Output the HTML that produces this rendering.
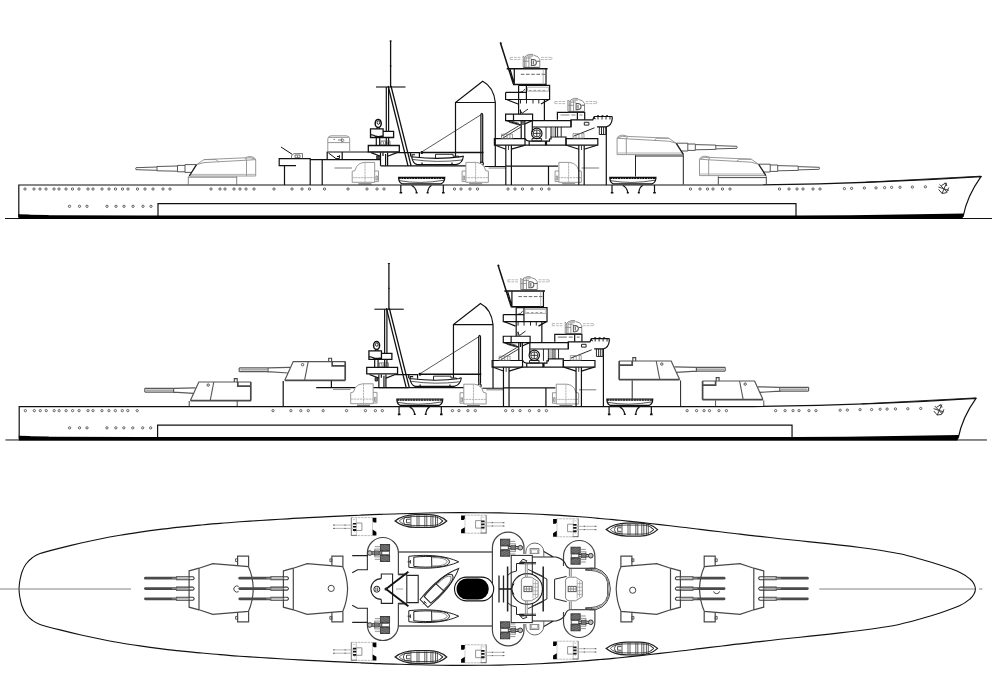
<!DOCTYPE html>
<html><head><meta charset="utf-8"><title>Battleship line drawing</title>
<style>
html,body{margin:0;padding:0;background:#fff;}
body{width:1000px;height:687px;overflow:hidden;font-family:"Liberation Sans",sans-serif;}
svg{display:block;}
</style></head><body>
<svg width="1000" height="687" viewBox="0 0 1000 687">
<rect width="1000" height="687" fill="#fff"/>
<defs><g id="common">
<g fill="none" stroke="#111" stroke-width="1.2">
<path d="M18.8,217 V185 H745 Q870,183.8 981,176.6 Q967,196 963,217" stroke-width="1.2"/><path d="M866,182.2 L981,176.2" stroke-width="0.9"/>
<path d="M158,217 V203.6 H796 V217"/>
<path d="M5,218.5 H992" stroke-width="1"/>
</g>
<path d="M18.4,214.3 L29,214.4 L30,214.8 L48,214.9 L49,215.3 L140,215.4 L800,215.4 L850,215.2 L900,214.6 L964,213.4 L962.3,219 L18.4,219Z" fill="#000"/>
<g fill="#fff" stroke="#333" stroke-width="0.75">
<circle cx="25" cy="189" r="1.15"/><circle cx="34" cy="189" r="1.15"/><circle cx="40" cy="189" r="1.15"/><circle cx="46" cy="189" r="1.15"/><circle cx="54" cy="189" r="1.15"/><circle cx="59" cy="189" r="1.15"/><circle cx="66" cy="189" r="1.15"/><circle cx="72.5" cy="189" r="1.15"/><circle cx="79" cy="189" r="1.15"/><circle cx="88" cy="189" r="1.15"/><circle cx="93" cy="189" r="1.15"/><circle cx="102" cy="189" r="1.15"/><circle cx="109" cy="189" r="1.15"/><circle cx="115.5" cy="189" r="1.15"/><circle cx="122.5" cy="189" r="1.15"/><circle cx="128" cy="189" r="1.15"/><circle cx="137.5" cy="189" r="1.15"/><circle cx="274" cy="189" r="1.15"/><circle cx="292" cy="189" r="1.15"/><circle cx="302" cy="189" r="1.15"/><circle cx="309.5" cy="189" r="1.15"/><circle cx="324.5" cy="189" r="1.15"/><circle cx="348" cy="189" r="1.15"/><circle cx="367" cy="189" r="1.15"/><circle cx="377" cy="189" r="1.15"/><circle cx="384" cy="189" r="1.15"/><circle cx="454.5" cy="189" r="1.15"/><circle cx="461" cy="189" r="1.15"/><circle cx="470" cy="189" r="1.15"/><circle cx="477.5" cy="189" r="1.15"/><circle cx="508" cy="189" r="1.15"/><circle cx="515" cy="189" r="1.15"/><circle cx="522.5" cy="189" r="1.15"/><circle cx="532" cy="189" r="1.15"/><circle cx="541.5" cy="189" r="1.15"/><circle cx="549" cy="189" r="1.15"/><circle cx="690.5" cy="189" r="1.15"/><circle cx="700" cy="189" r="1.15"/><circle cx="707.5" cy="189" r="1.15"/><circle cx="713" cy="189" r="1.15"/><circle cx="722.5" cy="189" r="1.15"/><circle cx="730" cy="189" r="1.15"/><circle cx="779.5" cy="189" r="1.15"/><circle cx="789" cy="189" r="1.15"/><circle cx="797" cy="189" r="1.15"/><circle cx="803" cy="189" r="1.15"/><circle cx="813" cy="189" r="1.15"/><circle cx="820" cy="189" r="1.15"/>
<circle cx="844.4" cy="188.6" r="1.15"/><circle cx="851.6" cy="188.4" r="1.15"/><circle cx="864.4" cy="188" r="1.15"/><circle cx="876" cy="187.9" r="1.15"/><circle cx="884.6" cy="187.6" r="1.15"/><circle cx="891.6" cy="187.4" r="1.15"/><circle cx="900" cy="187.3" r="1.15"/><circle cx="912.4" cy="187.1" r="1.15"/><circle cx="925.4" cy="186.8" r="1.15"/>
<circle cx="69.5" cy="206.3" r="1.15"/><circle cx="79.5" cy="206.3" r="1.15"/><circle cx="87" cy="206.3" r="1.15"/><circle cx="107" cy="206.3" r="1.15"/><circle cx="116" cy="206.3" r="1.15"/><circle cx="124" cy="206.3" r="1.15"/><circle cx="133" cy="206.3" r="1.15"/><circle cx="143" cy="206.3" r="1.15"/><circle cx="151" cy="206.3" r="1.15"/>
</g>
<g fill="none" stroke="#3a3a3a" stroke-width="1"><path d="M938.4,187 l10.4,3.4 M946.6,182.8 l-4.6,10.8 M939.6,184.4 l7.6,8 M944.6,183 q2.4,0.6 2.2,3 M938.6,189.4 l3.4,4 l4.4,-0.6 M948.8,187.6 l-2.6,5.2 M941.4,185.6 l4.2,-2.6" /></g>
<g fill="none" stroke="#111" stroke-width="1.2">
<path d="M390.6,40.5 V87" stroke-width="1.3"/>
<path d="M389.5,41 h2.2 M389.8,66 h1.8" stroke-width="0.8"/>
<path d="M376,87 H405.5" stroke-width="1.1"/>
<path d="M386.3,87 V131.4 M388.6,87 V131.4"/>
<path d="M388.1,86 L408,165.8 M391,86 L411.1,165.8" stroke-width="1.3"/>
<ellipse cx="378.2" cy="123.4" rx="3" ry="4" stroke-width="1.5"/><ellipse cx="378.4" cy="122.6" rx="1.3" ry="1.7" stroke-width="0.9"/><path d="M377,127.4 v1.6 M379.6,127.4 v1.6"/>
<path d="M370.5,128.9 H383.1 V131.4 H393.6 V137.5 H370.5Z M383.1,131.4 V137.5 M370.8,134.6 q3,0.4 5,1.6 q2,0.8 6.8,-0.2" stroke-width="1.3"/>
<path d="M376.3,137.5 V145.4 M379.7,137.5 V145.4 M386.3,137.5 V145.4 M388.6,137.5 V145.4"/>
<path d="M381,141 h9 v4 h-9z M383,141.5 l1,3 M385.5,141.5 v3 M388,141.5 l-1,3" stroke="#444" stroke-width="0.7"/>
<path d="M368.3,145.5 H399.3 V152 H368.3Z" stroke-width="1.3"/>
<path d="M371,152.6 L380.5,156.3 M397,152.6 L387.6,156.3"/>
<path d="M380.5,152.6 V165.8 M387.6,152.6 V165.8 M385.6,154 V165.8 M383,152.6 V156"/>
<path d="M376.7,155.8 h2.6 v3.4 h-2.6z" fill="#555" stroke-width="0.8"/>
</g>
<g fill="none" stroke="#111" stroke-width="1.2">
<path d="M380.5,165.8 H466.8 M484.5,166.5 H505.5"/>
<path d="M397,152.7 H419.4 V157"/>
<path d="M410.5,152.7 V156.5"/>
<path d="M455.5,156.5 V102.5 L482.7,81.2 Q493.8,87 495.3,102.5 V166.3 M455.5,102.5 H495.3"/>
<path d="M480.9,114.5 V162 M482.7,114.5 V162 M480.9,114.5 Q481.8,112 482.7,114.5"/>
<circle cx="481.8" cy="163.8" r="1.6"/>
<path d="M481.3,114.5 L421.7,152" stroke-width="0.7"/>
<path d="M421.5,152.4 H483.5" stroke-width="1.5"/>
<circle cx="421.8" cy="152.4" r="0.9" fill="#111"/>
</g>
<g fill="none" stroke="#111" stroke-width="1.2">
<path d="M411.6,156.8 Q413,163.5 417,164.6 H456 Q462.5,163.5 463.4,156.2 Q463,155.6 461.5,156.6 Q440,160 413.5,157 Z" stroke-width="1.1"/>
<path d="M413,159.5 Q437,163 462,160" stroke-width="0.7"/>
<path d="M435.5,158.4 V154.3 H453 V156.2 H458.5 V157.4" stroke-width="0.9"/>
<path d="M412,157 V154.8 H415" stroke-width="1.1"/>
<path d="M422,164.6 v-2 M452,164.6 v-2" stroke-width="1.2"/>
</g>
<g transform="translate(0.0,0)" fill="none" stroke="#111" stroke-width="1.2"><path d="M398.6,177.3 H444.8 Q444.6,182.5 441,183.8 H402 Q398.6,182.5 398.6,177.3Z"/><path d="M398.6,178.3 H444.8" stroke-width="1.6" stroke-dasharray="2.2 0.5"/><path d="M399,180.6 Q420,184.5 444,180.2" stroke-width="0.7"/><path d="M400.8,185 V192.5 M443.3,185 V192.5" stroke-width="1.2"/><path d="M399.6,192.8 h2.6 M442,192.8 h2.6" stroke-width="1.6"/><path d="M411.5,185.5 Q415.5,187 416.6,192.5 M431.5,185.5 Q428.2,187 427.6,192.5" stroke-width="1.2"/><path d="M415.6,192.8 h2 M426.6,192.8 h2" stroke-width="1.4"/></g>
<g transform="translate(211.20000000000005,0)" fill="none" stroke="#111" stroke-width="1.2"><path d="M398.6,177.3 H444.8 Q444.6,182.5 441,183.8 H402 Q398.6,182.5 398.6,177.3Z"/><path d="M398.6,178.3 H444.8" stroke-width="1.6" stroke-dasharray="2.2 0.5"/><path d="M399,180.6 Q420,184.5 444,180.2" stroke-width="0.7"/><path d="M400.8,185 V192.5 M443.3,185 V192.5" stroke-width="1.2"/><path d="M399.6,192.8 h2.6 M442,192.8 h2.6" stroke-width="1.6"/><path d="M411.5,185.5 Q415.5,187 416.6,192.5 M431.5,185.5 Q428.2,187 427.6,192.5" stroke-width="1.2"/><path d="M415.6,192.8 h2 M426.6,192.8 h2" stroke-width="1.4"/></g>
<g transform="translate(840.6,0) scale(-1,1)" fill="#fff" stroke="#8c8c8c" stroke-width="0.9"><path d="M352.2,182.3 V171.3 L355,170.6 L356.5,166.5 Q359.5,162.6 364,162.4 H374.7 V182.3 Z"/><path d="M374.7,171 H378.5 V181.6 H374.7 M376,176 h1.4 v4 h-1.4z" fill="none"/><path d="M365,162.4 V183.6 M352.2,177.7 H374.7" fill="none" stroke="#aaa" stroke-dasharray="2.4 0.6"/><path d="M358.5,183.9 H371.5" stroke="#777" stroke-width="1.3"/><path d="M334.5,168 H352" stroke="#999" stroke-width="1.3"/></g>
<g transform="translate(933.6,0) scale(-1,1)" fill="#fff" stroke="#8c8c8c" stroke-width="0.9"><path d="M352.2,182.3 V171.3 L355,170.6 L356.5,166.5 Q359.5,162.6 364,162.4 H374.7 V182.3 Z"/><path d="M374.7,171 H378.5 V181.6 H374.7 M376,176 h1.4 v4 h-1.4z" fill="none"/><path d="M365,162.4 V183.6 M352.2,177.7 H374.7" fill="none" stroke="#aaa" stroke-dasharray="2.4 0.6"/><path d="M358.5,183.9 H371.5" stroke="#777" stroke-width="1.3"/><path d="M334.5,168 H352" stroke="#999" stroke-width="1.3"/></g>
<g fill="none" stroke="#111" stroke-width="1.2">
<path d="M505.8,166.2 H558 M548.5,166.2 V185"/>
<path d="M505.8,145.3 V185 M511.4,145.3 V185 M578.8,145.3 V185 M584.2,145.3 V185"/>
<path d="M508.5,145.3 V150 M581.5,145.3 V150" stroke-width="0.8"/>
<path d="M494.4,138.6 H525 V145.2 H494.4Z M566,138.6 H597.8 V145.2 H566 Z"/>
<path d="M525,145.2 H566" />
<path d="M495.5,145.3 L505.8,149.2 M524.5,145.3 L511.4,149.2 M566.5,145.3 L578.8,149.2 M597,145.3 L584.2,149.2"/>
<path d="M525,138.6 Q526.5,141.2 529.2,141.2 V145.2 M529.2,141.2 H546.5 V145.2 M545.5,145.2 V141"/>
<path d="M546.5,141.2 H549.5 V139 H551 V137 H566 V145.2" />
<circle cx="536.8" cy="133.4" r="5.2" stroke-width="1.2"/><circle cx="536.8" cy="133.4" r="3.6" stroke-width="0.8"/><path d="M533.2,133.4 h7.2 M536.8,129.8 v7.2" stroke-width="0.8"/>
<path d="M532,138.6 h9.6 v2.4 h-9.6z" stroke-width="0.9"/>
<path d="M505.6,114.2 H532.6 V120.6 H505.6Z M513.5,114.2 V120.6"/>
<path d="M532.6,120.6 H571 V127 H532.6"/>
<path d="M506.5,120.6 L521.2,125 M532,120.6 L524.8,124"/>
<path d="M521.2,120.6 V138.6 M524.8,120.6 V138.6 M532.3,120.6 V132 M523,121 V125" />
<path d="M509,122.2 l9,2.6 M511,121 l8,2.4" stroke-width="0.7"/>
<path d="M546,127 V139 M551,127 V137 M555.6,127 V137 M557.6,127 V137 M561.2,127 V137" stroke-width="0.9"/>
<path d="M551,129 h4.6 M551,131 h4.6 M551,133 h4.6 M551,135 h4.6" stroke="#666" stroke-width="0.8"/>
<path d="M501,136.5 L520.5,124.8 M503,138 L521,127" stroke-width="0.8"/>
<path d="M501.5,134.2 h11 v4.2 h-11z M504,134.5 v3.6 M507,134.5 v3.6 M510,134.5 v3.6" stroke="#777" stroke-width="0.7"/>
<path d="M573.5,136.2 L594.5,127.8" stroke-width="0.9"/>
<path d="M573,133.6 h11 v4.6 h-11z M576,134 v3.8 M579,134 v3.8 M582,134 v3.8" stroke="#777" stroke-width="0.7"/>
<path d="M518.6,99.5 V114.2 M544.4,99.5 V120.6"/>
<path d="M520,110 l2,3.4 l6,-4.4 M520.5,109.5 v4.5" stroke-width="0.9"/>
<path d="M526.4,85.4 H549.6 V99.5 H526.4Z"/>
<path d="M505.6,92.4 H526.4 M505.6,92.4 V99.5 H526.4 M518.6,85.4 V99.5 M518.6,85.4 H526.4"/>
<path d="M519,92.4 Q524,92 525,89" stroke-width="0.8"/>
<path d="M506.5,99.5 L518,104 M549,99.5 L541,104" />
<path d="M520.5,99.5 v4 M526.5,99.5 v4 M533,99.5 v4 M538.8,99.5 v4" stroke-width="0.9"/>
<path d="M527.5,87.2 H548.6 V91.2 H527.5Z" stroke="#999" stroke-width="0.8"/>
<path d="M529,90.4 h2.5 M533.5,90.4 h2.5 M538,90.4 h2.5 M542.5,90.4 h2.5" stroke="#999" stroke-width="1"/>
<path d="M506.7,68.8 H547.6" stroke-width="1.5"/>
<path d="M514.3,69 V84.4 H546 V69 M510,69 L514.3,84"/>
<path d="M513,84.6 H546.2" stroke-width="1.2"/>
<path d="M520.8,74.3 H545" stroke="#555" stroke-width="0.9" stroke-dasharray="3.6 1.6"/>
<path d="M543.2,69 V84.4" stroke="#999" stroke-width="0.7"/>
<path d="M500.5,43 L513.4,84" stroke-width="1.5"/>
<path d="M500,42.5 l1.4,1.2" stroke-width="1.6"/>
<path d="M557.4,119.8 V112.4 H584.7 V119.8 M577.4,112.4 V119.8"/>
<path d="M560.5,115 h9 M571.5,115 h4 M579.5,115 h3" stroke="#888" stroke-width="1.2"/>
<path d="M571,127 V119.8 H592.8 L594,117"/>
<path d="M594,116.5 H612.2 M594,116.5 Q594,118.5 595.5,119 M612.2,116.5 V119 Q611.5,126 606,126.8 H597"/>
<path d="M598,116.5 v3 M602,116.5 v3 M606,116.5 v3 M610,116.5 v3" stroke-width="0.9"/>
<path d="M597,115.6 h2 M601.5,115.6 h2 M606,115.6 h2" stroke-width="0.8"/>
<path d="M599.3,127 V134.5 M601.5,127 V134.5 M603.6,127 V134.5 M605.8,127 V134.5 M599.3,134.5 H605.8" stroke-width="0.9"/>
<path d="M584.3,122.3 h4.6 v2.8 h-4.6z" stroke-width="0.9"/>
<path d="M606.3,127 V185"/>
</g>
<g transform="translate(0.0,0.0)" fill="none" stroke="#808080" stroke-width="0.9"><path d="M523.2,67.3 V56 L524.6,57.4 L526.4,55.4 H527 Q529.5,53.6 533,54.4 L534,55.4 Q538.6,56 539.8,59.4 V67.3 Z" fill="#fff"/><path d="M527.2,55.2 Q530,54.2 533,55.2 L532.6,56.4 H527.6Z" fill="#ccc" stroke="#999" stroke-width="0.6"/><path d="M526,56 V67.3 M528.9,57 V67.3 M523.2,61.2 H529 M526,58 H531.5 M524.6,57.4 V67" stroke="#8a8a8a"/><path d="M531.4,59.4 H533.6 Q536.4,59.8 536.4,62.4 Q536.4,65.2 533.6,65.5 H531.4 Z M533.3,60.6 V64.4 M539.8,61.2 H537" stroke="#5a5a5a" stroke-width="1.05"/><path d="M510.2,57.4 H520.8 M541,57.4 H551.8 M510.2,59.5 H520.8 M541,59.5 H551.8" stroke="#aaa" stroke-width="0.8" stroke-dasharray="2.8 0.9"/><path d="M510.2,57.4 V59.5 M551.8,57.4 V59.5" stroke="#aaa" stroke-width="0.8"/><path d="M523.6,67.7 H539.6" stroke="#444" stroke-width="1.2"/></g>
<g transform="translate(44.700000000000045,44.099999999999994)" fill="none" stroke="#808080" stroke-width="0.9"><path d="M523.2,67.3 V56 L524.6,57.4 L526.4,55.4 H527 Q529.5,53.6 533,54.4 L534,55.4 Q538.6,56 539.8,59.4 V67.3 Z" fill="#fff"/><path d="M527.2,55.2 Q530,54.2 533,55.2 L532.6,56.4 H527.6Z" fill="#ccc" stroke="#999" stroke-width="0.6"/><path d="M526,56 V67.3 M528.9,57 V67.3 M523.2,61.2 H529 M526,58 H531.5 M524.6,57.4 V67" stroke="#8a8a8a"/><path d="M531.4,59.4 H533.6 Q536.4,59.8 536.4,62.4 Q536.4,65.2 533.6,65.5 H531.4 Z M533.3,60.6 V64.4 M539.8,61.2 H537" stroke="#5a5a5a" stroke-width="1.05"/><path d="M510.2,57.4 H520.8 M541,57.4 H551.8 M510.2,59.5 H520.8 M541,59.5 H551.8" stroke="#aaa" stroke-width="0.8" stroke-dasharray="2.8 0.9"/><path d="M510.2,57.4 V59.5 M551.8,57.4 V59.5" stroke="#aaa" stroke-width="0.8"/><path d="M523.6,67.7 H539.6" stroke="#444" stroke-width="1.2"/></g>
</g></defs>
<!-- profile 1 -->
<g id="profile1">
<g fill="none" stroke="#111" stroke-width="1.2">
<path d="M296,165.7 H279.2 V158.7 H310.2 V185 M284.5,165.7 V185"/>
<path d="M310.2,159.7 H380.5 M322.2,159.7 V185"/>
<path d="M327.2,159.7 V152 H368 M342.2,152 V159.7"/>
<path d="M328.5,153 L336,158.6 h3.4 v-3.4 M337,156.5 h2.2" stroke-width="1"/>
<path d="M281,147 L292.2,154.3" stroke-width="1"/>
<path d="M291.5,158.5 V155.5 L294,153.6 H302.5 V158.5 M295,155 h5 v2.6 h-5z M297,155.2 l1,2.4" stroke="#555" stroke-width="0.8"/>
</g>
<g fill="none" stroke="#8c8c8c" stroke-width="0.9">
<path d="M327.8,152 V139 Q328,136 331,135.8 H346.5 Q349.6,136 349.7,139 V152"/>
<path d="M329,137.4 H348.5 M328,142.6 H349.6" />
<path d="M333.5,139.4 h1.5 M338,140 h3 m0.5,-1.2 q2.4,0.2 2.4,1.6 q0,1.2 -2.4,1.2z" stroke="#666"/>
</g>
<g transform="translate(0,0)" fill="#fff" stroke="#8c8c8c" stroke-width="0.9"><path d="M352.2,182.3 V171.3 L355,170.6 L356.5,166.5 Q359.5,162.6 364,162.4 H374.7 V182.3 Z"/><path d="M374.7,171 H378.5 V181.6 H374.7 M376,176 h1.4 v4 h-1.4z" fill="none"/><path d="M365,162.4 V183.6 M352.2,177.7 H374.7" fill="none" stroke="#aaa" stroke-dasharray="2.4 0.6"/><path d="M358.5,183.9 H371.5" stroke="#777" stroke-width="1.3"/><path d="M334.5,168 H352" stroke="#999" stroke-width="1.3"/></g>
<g fill="#fff" stroke="#333" stroke-width="0.75"><circle cx="145" cy="189" r="1.15"/><circle cx="153" cy="189" r="1.15"/><circle cx="163" cy="189" r="1.15"/><circle cx="170" cy="189" r="1.15"/><circle cx="211" cy="189" r="1.15"/><circle cx="220" cy="189" r="1.15"/><circle cx="225" cy="189" r="1.15"/><circle cx="234" cy="189" r="1.15"/><circle cx="240" cy="189" r="1.15"/><circle cx="246" cy="189" r="1.15"/><circle cx="254" cy="189" r="1.15"/></g>
<g transform="translate(0,0)"><g fill="none" stroke="#444" stroke-width="0.9"><path d="M136,167.7 L157,167 V166.5 L177.5,166 V165.4 H185 V164.6 H196.4 M136,169.7 L157,170.3 V170.8 L177.5,171.2 V171.8 H185 V172.4 H191.6 M136,167.7 Q135.3,168.7 136,169.7 M157,167 V170.3 M177.5,166 V171.2 M185,165.4 V171.8"/></g><g fill="none" stroke="#8c8c8c" stroke-width="0.9"><path d="M189.3,176 L196.5,164.7 L204,159.6 L245.2,157.8 Q247,156.6 251,156.6 Q255,157 255.7,159.8 V176 Z"/><path d="M196.5,164.7 L204,162.6 L246.5,160.2 V176 M204,159.6 H216 L218.5,161.8 M245.2,157.8 L246.5,160.2 L255.7,159.6 M246,158.2 Q250,156.8 254.6,159"/><path d="M190.5,174.4 H255.7" stroke="#aaa"/></g><path d="M196.5,164.7 L189.3,176" stroke="#222" stroke-width="1.3" fill="none"/></g>
<path d="M188.3,176.4 V184.5 M236.7,176.4 V184.5 M188.3,177.2 H236.7" fill="none" stroke="#777" stroke-width="0.9"/>
<g transform="translate(955.2,-0.4) scale(-1,1)"><g fill="none" stroke="#444" stroke-width="0.9"><path d="M136,167.7 L157,167 V166.5 L177.5,166 V165.4 H185 V164.6 H196.4 M136,169.7 L157,170.3 V170.8 L177.5,171.2 V171.8 H185 V172.4 H191.6 M136,167.7 Q135.3,168.7 136,169.7 M157,167 V170.3 M177.5,166 V171.2 M185,165.4 V171.8"/></g><g fill="none" stroke="#8c8c8c" stroke-width="0.9"><path d="M189.3,176 L196.5,164.7 L204,159.6 L245.2,157.8 Q247,156.6 251,156.6 Q255,157 255.7,159.8 V176 Z"/><path d="M196.5,164.7 L204,162.6 L246.5,160.2 V176 M204,159.6 H216 L218.5,161.8 M245.2,157.8 L246.5,160.2 L255.7,159.6 M246,158.2 Q250,156.8 254.6,159"/><path d="M190.5,174.4 H255.7" stroke="#aaa"/></g><path d="M196.5,164.7 L189.3,176" stroke="#222" stroke-width="1.3" fill="none"/></g>
<path d="M718.3,176.4 V184.5 M766.3,176.4 V184.5 M718.3,177.6 H766.3" fill="none" stroke="#333" stroke-width="0.9"/>
<g transform="translate(872.8,-21.4) scale(-1,1)"><g fill="none" stroke="#444" stroke-width="0.9"><path d="M136,167.7 L157,167 V166.5 L177.5,166 V165.4 H185 V164.6 H196.4 M136,169.7 L157,170.3 V170.8 L177.5,171.2 V171.8 H185 V172.4 H191.6 M136,167.7 Q135.3,168.7 136,169.7 M157,167 V170.3 M177.5,166 V171.2 M185,165.4 V171.8"/></g><g fill="none" stroke="#8c8c8c" stroke-width="0.9"><path d="M189.3,176 L196.5,164.7 L204,159.6 L245.2,157.8 Q247,156.6 251,156.6 Q255,157 255.7,159.8 V176 Z"/><path d="M196.5,164.7 L204,162.6 L246.5,160.2 V176 M204,159.6 H216 L218.5,161.8 M245.2,157.8 L246.5,160.2 L255.7,159.6 M246,158.2 Q250,156.8 254.6,159"/><path d="M190.5,174.4 H255.7" stroke="#aaa"/></g><path d="M196.5,164.7 L189.3,176" stroke="#222" stroke-width="1.3" fill="none"/></g>
<path d="M635.5,155.2 V176.5 M683.3,155.2 V184.5 M635.5,156 H683.3" fill="none" stroke="#222" stroke-width="1"/>
<use href="#common"/>
</g>
<!-- profile 2 -->
<g id="profile2">
<g transform="translate(0,0)" fill="none"><path d="M144.8,388.3 H173.6 L195.6,387.8 M144.8,392.1 H173.6 L193.6,393.4 M144.8,388.3 V392.1 M173.6,388 V393" stroke="#5a5a5a" stroke-width="1.2"/><path d="M146,390.2 H173" stroke="#aaa" stroke-width="1.6"/><path d="M190.4,400.6 L198.8,382 H251" stroke="#555" stroke-width="1.2"/><path d="M190.4,400.7 H251 M250.8,382 V400.7 M237.8,382 V386.2 H250.8" stroke="#4a4a4a" stroke-width="1.7"/><path d="M239.2,383.6 H249.6 V385 " stroke="#fff" stroke-width="0.5" stroke-dasharray="1 1.4"/><path d="M234.3,382 V378.6 H237.2 V382" stroke="#444" stroke-width="1.1"/><path d="M213.8,382 L210.2,400.6" stroke="#555" stroke-width="1.1"/><circle cx="208.2" cy="385.1" r="1.2" stroke="#444" stroke-width="0.9"/></g>
<path d="M189.2,401 V406.2 M237.2,401 V406.2" fill="none" stroke="#444" stroke-width="1"/>
<g transform="translate(94.4,-20.4)" fill="none"><path d="M144.8,388.3 H173.6 L195.6,387.8 M144.8,392.1 H173.6 L193.6,393.4 M144.8,388.3 V392.1 M173.6,388 V393" stroke="#5a5a5a" stroke-width="1.2"/><path d="M146,390.2 H173" stroke="#aaa" stroke-width="1.6"/><path d="M190.4,400.6 L198.8,382 H251" stroke="#555" stroke-width="1.2"/><path d="M190.4,400.7 H251 M250.8,382 V400.7 M237.8,382 V386.2 H250.8" stroke="#4a4a4a" stroke-width="1.7"/><path d="M239.2,383.6 H249.6 V385 " stroke="#fff" stroke-width="0.5" stroke-dasharray="1 1.4"/><path d="M234.3,382 V378.6 H237.2 V382" stroke="#444" stroke-width="1.1"/><path d="M213.8,382 L210.2,400.6" stroke="#555" stroke-width="1.1"/><circle cx="208.2" cy="385.1" r="1.2" stroke="#444" stroke-width="0.9"/></g>
<g fill="none" stroke="#111" stroke-width="1.2">
<path d="M283.2,381 V406.5"/>
<path d="M316.2,387.6 H408.6 M331.4,380.8 V387.6"/>
</g>
<g transform="translate(-1.5,221.4)"><g transform="translate(0,0)" fill="#fff" stroke="#8c8c8c" stroke-width="0.9"><path d="M352.2,182.3 V171.3 L355,170.6 L356.5,166.5 Q359.5,162.6 364,162.4 H374.7 V182.3 Z"/><path d="M374.7,171 H378.5 V181.6 H374.7 M376,176 h1.4 v4 h-1.4z" fill="none"/><path d="M365,162.4 V183.6 M352.2,177.7 H374.7" fill="none" stroke="#aaa" stroke-dasharray="2.4 0.6"/><path d="M358.5,183.9 H371.5" stroke="#777" stroke-width="1.3"/><path d="M334.5,168 H352" stroke="#999" stroke-width="1.3"/></g></g>
<g transform="translate(953.4,-1.0) scale(-1,1)" fill="none"><path d="M144.8,388.3 H173.6 L195.6,387.8 M144.8,392.1 H173.6 L193.6,393.4 M144.8,388.3 V392.1 M173.6,388 V393" stroke="#5a5a5a" stroke-width="1.2"/><path d="M146,390.2 H173" stroke="#aaa" stroke-width="1.6"/><path d="M190.4,400.6 L198.8,382 H251" stroke="#555" stroke-width="1.2"/><path d="M190.4,400.7 H251 M250.8,382 V400.7 M237.8,382 V386.2 H250.8" stroke="#4a4a4a" stroke-width="1.7"/><path d="M239.2,383.6 H249.6 V385 " stroke="#fff" stroke-width="0.5" stroke-dasharray="1 1.4"/><path d="M234.3,382 V378.6 H237.2 V382" stroke="#444" stroke-width="1.1"/><path d="M213.8,382 L210.2,400.6" stroke="#555" stroke-width="1.1"/><circle cx="208.2" cy="385.1" r="1.2" stroke="#444" stroke-width="0.9"/></g>
<path d="M715.6,400.4 V406.5 M763.8,400.4 V406.5" fill="none" stroke="#444" stroke-width="0.9"/>
<g transform="translate(870.0,-21.0) scale(-1,1)" fill="none"><path d="M144.8,388.3 H173.6 L195.6,387.8 M144.8,392.1 H173.6 L193.6,393.4 M144.8,388.3 V392.1 M173.6,388 V393" stroke="#5a5a5a" stroke-width="1.2"/><path d="M146,390.2 H173" stroke="#aaa" stroke-width="1.6"/><path d="M190.4,400.6 L198.8,382 H251" stroke="#555" stroke-width="1.2"/><path d="M190.4,400.7 H251 M250.8,382 V400.7 M237.8,382 V386.2 H250.8" stroke="#4a4a4a" stroke-width="1.7"/><path d="M239.2,383.6 H249.6 V385 " stroke="#fff" stroke-width="0.5" stroke-dasharray="1 1.4"/><path d="M234.3,382 V378.6 H237.2 V382" stroke="#444" stroke-width="1.1"/><path d="M213.8,382 L210.2,400.6" stroke="#555" stroke-width="1.1"/><circle cx="208.2" cy="385.1" r="1.2" stroke="#444" stroke-width="0.9"/></g>
<path d="M632.2,380.4 V398.6 M680.6,380.4 V406.5" fill="none" stroke="#222" stroke-width="1"/>
<use href="#common" transform="translate(0.5,222.7) scale(0.9944)"/>
</g>
<!-- plan -->
<g id="plan">
<path d="M19.0,589.0 C19.1,588.2 19.2,585.5 19.4,584.0 C19.6,582.5 19.6,582.0 20.0,580.0 C20.4,578.0 21.0,574.7 22.0,572.0 C23.0,569.3 24.3,566.3 26.0,564.0 C27.7,561.7 29.7,559.7 32.0,558.0 C34.3,556.3 35.3,555.3 40.0,553.6 C44.7,552.0 53.3,549.8 60.0,548.1 C66.7,546.4 73.3,544.8 80.0,543.2 C86.7,541.7 93.3,540.3 100.0,539.0 C106.7,537.6 113.3,536.4 120.0,535.3 C126.7,534.1 133.3,533.1 140.0,532.1 C146.7,531.1 153.3,530.2 160.0,529.4 C166.7,528.6 173.3,527.8 180.0,527.1 C186.7,526.4 193.3,525.7 200.0,525.1 C206.7,524.5 213.3,523.9 220.0,523.4 C226.7,522.8 233.3,522.3 240.0,521.8 C246.7,521.4 253.3,520.9 260.0,520.5 C266.7,520.1 273.3,519.6 280.0,519.2 C286.7,518.9 293.3,518.5 300.0,518.1 C306.7,517.7 313.3,517.4 320.0,517.1 C326.7,516.7 333.3,516.4 340.0,516.1 C346.7,515.8 353.3,515.5 360.0,515.2 C366.7,514.9 373.3,514.6 380.0,514.4 C386.7,514.1 393.3,513.9 400.0,513.7 C406.7,513.5 413.3,513.3 420.0,513.2 C426.7,513.0 433.3,512.9 440.0,512.8 C446.7,512.7 453.3,512.6 460.0,512.6 C466.7,512.6 473.3,512.6 480.0,512.7 C486.7,512.7 493.3,512.8 500.0,512.9 C506.7,513.1 513.3,513.3 520.0,513.5 C526.7,513.7 533.3,514.0 540.0,514.3 C546.7,514.7 553.3,515.0 560.0,515.4 C566.7,515.9 573.3,516.3 580.0,516.8 C586.7,517.3 593.3,517.9 600.0,518.5 C606.7,519.0 613.3,519.7 620.0,520.3 C626.7,521.0 633.3,521.7 640.0,522.4 C646.7,523.1 653.3,523.9 660.0,524.6 C666.7,525.4 673.3,526.2 680.0,527.0 C686.7,527.7 693.3,528.6 700.0,529.4 C706.7,530.2 713.3,531.0 720.0,531.8 C726.7,532.6 733.3,533.4 740.0,534.1 C746.7,534.9 753.3,535.7 760.0,536.4 C766.7,537.2 773.3,537.9 780.0,538.7 C786.7,539.4 793.3,540.1 800.0,540.8 C806.7,541.5 813.3,542.2 820.0,542.9 C826.7,543.6 833.3,544.3 840.0,545.1 C846.7,545.8 853.3,546.6 860.0,547.5 C866.7,548.3 873.3,549.2 880.0,550.2 C886.7,551.3 893.3,552.3 900.0,553.8 C906.7,555.2 913.3,557.1 920.0,559.0 C926.7,560.9 933.3,562.8 940.0,565.0 C946.7,567.2 955.0,570.1 960.0,572.4 C965.0,574.7 967.7,577.1 970.0,579.0 C972.3,580.9 973.1,582.3 974.0,584.0 C974.9,585.7 975.4,587.3 975.4,589.0 C975.4,590.7 974.9,592.3 974.0,594.0 C973.1,595.7 972.3,597.1 970.0,599.0 C967.7,600.9 965.0,603.3 960.0,605.6 C955.0,607.9 946.7,610.8 940.0,613.0 C933.3,615.2 926.7,617.1 920.0,619.0 C913.3,620.9 906.7,622.8 900.0,624.2 C893.3,625.7 886.7,626.7 880.0,627.8 C873.3,628.8 866.7,629.7 860.0,630.5 C853.3,631.4 846.7,632.2 840.0,632.9 C833.3,633.7 826.7,634.4 820.0,635.1 C813.3,635.8 806.7,636.5 800.0,637.2 C793.3,637.9 786.7,638.6 780.0,639.3 C773.3,640.1 766.7,640.8 760.0,641.6 C753.3,642.3 746.7,643.1 740.0,643.9 C733.3,644.6 726.7,645.4 720.0,646.2 C713.3,647.0 706.7,647.8 700.0,648.6 C693.3,649.4 686.7,650.3 680.0,651.0 C673.3,651.8 666.7,652.6 660.0,653.4 C653.3,654.1 646.7,654.9 640.0,655.6 C633.3,656.3 626.7,657.0 620.0,657.7 C613.3,658.3 606.7,659.0 600.0,659.5 C593.3,660.1 586.7,660.7 580.0,661.2 C573.3,661.7 566.7,662.1 560.0,662.6 C553.3,663.0 546.7,663.3 540.0,663.7 C533.3,664.0 526.7,664.3 520.0,664.5 C513.3,664.7 506.7,664.9 500.0,665.1 C493.3,665.2 486.7,665.3 480.0,665.3 C473.3,665.4 466.7,665.4 460.0,665.4 C453.3,665.4 446.7,665.3 440.0,665.2 C433.3,665.1 426.7,665.0 420.0,664.8 C413.3,664.7 406.7,664.5 400.0,664.3 C393.3,664.1 386.7,663.9 380.0,663.6 C373.3,663.4 366.7,663.1 360.0,662.8 C353.3,662.5 346.7,662.2 340.0,661.9 C333.3,661.6 326.7,661.3 320.0,660.9 C313.3,660.6 306.7,660.3 300.0,659.9 C293.3,659.5 286.7,659.1 280.0,658.8 C273.3,658.4 266.7,657.9 260.0,657.5 C253.3,657.1 246.7,656.6 240.0,656.2 C233.3,655.7 226.7,655.2 220.0,654.6 C213.3,654.1 206.7,653.5 200.0,652.9 C193.3,652.3 186.7,651.6 180.0,650.9 C173.3,650.2 166.7,649.4 160.0,648.6 C153.3,647.8 146.7,646.9 140.0,645.9 C133.3,644.9 126.7,643.9 120.0,642.7 C113.3,641.6 106.7,640.4 100.0,639.0 C93.3,637.7 86.7,636.3 80.0,634.8 C73.3,633.2 66.7,631.6 60.0,629.9 C53.3,628.2 44.7,626.0 40.0,624.4 C35.3,622.7 34.3,621.7 32.0,620.0 C29.7,618.3 27.7,616.3 26.0,614.0 C24.3,611.7 23.0,608.7 22.0,606.0 C21.0,603.3 20.4,600.0 20.0,598.0 C19.6,596.0 19.6,595.5 19.4,594.0 C19.2,592.5 19.1,589.8 19.0,589.0" fill="none" stroke="#111" stroke-width="1.1"/>
<path d="M0,589.0 H131 M819.3,589.0 H975 M979,589.0 H982.5" stroke="#666" stroke-width="0.8" fill="none"/>
<g transform="translate(0,0)" fill="none" stroke="#484848" stroke-width="1.2"><path d="M189.1,570.8 L199,568.2 L212.8,563.6 L248.4,566.6 Q252.8,576.0 253.3,589.0 Q252.8,602.0 248.4,611.4 L212.8,614.4 L199,609.8 L189.1,607.2 Z"/><path d="M199,568.2 V609.8"/><path d="M237.6,565.8 V556.2 H248.6 V566.6" /><path d="M235.6,561.6 h2 v-2.8 h-2z" stroke-width="0.9"/><path d="M237.6,612.2 V621.8 H248.6 V611.4" /><path d="M235.6,616.4 h2 v2.8 h-2z" stroke-width="0.9"/><path d="M145.4,578.2 H176" stroke="#4a4a4a" stroke-width="2.7" stroke-linecap="round"/><path d="M176,576.7 H193 Q195.4,578.2 193,579.7 H176" stroke="#3c3c3c" stroke-width="1.1"/><path d="M172,578.2 H190" stroke="#999" stroke-width="0.9"/><path d="M145.4,588.6 H176" stroke="#4a4a4a" stroke-width="2.7" stroke-linecap="round"/><path d="M176,587.1 H193 Q195.4,588.6 193,590.1 H176" stroke="#3c3c3c" stroke-width="1.1"/><path d="M172,588.6 H190" stroke="#999" stroke-width="0.9"/><path d="M145.4,598.8000000000001 H176" stroke="#4a4a4a" stroke-width="2.7" stroke-linecap="round"/><path d="M176,597.3000000000001 H193 Q195.4,598.8000000000001 193,600.3000000000001 H176" stroke="#3c3c3c" stroke-width="1.1"/><path d="M172,598.8000000000001 H190" stroke="#999" stroke-width="0.9"/></g>
<g transform="translate(94.3,0)" fill="none" stroke="#484848" stroke-width="1.2"><path d="M189.1,570.8 L199,568.2 L212.8,563.6 L248.4,566.6 Q252.8,576.0 253.3,589.0 Q252.8,602.0 248.4,611.4 L212.8,614.4 L199,609.8 L189.1,607.2 Z"/><path d="M199,568.2 V609.8"/><path d="M237.6,565.8 V556.2 H248.6 V566.6" /><path d="M235.6,561.6 h2 v-2.8 h-2z" stroke-width="0.9"/><path d="M237.6,612.2 V621.8 H248.6 V611.4" /><path d="M235.6,616.4 h2 v2.8 h-2z" stroke-width="0.9"/><path d="M145.4,578.2 H176" stroke="#4a4a4a" stroke-width="2.7" stroke-linecap="round"/><path d="M176,576.7 H193 Q195.4,578.2 193,579.7 H176" stroke="#3c3c3c" stroke-width="1.1"/><path d="M172,578.2 H190" stroke="#999" stroke-width="0.9"/><path d="M145.4,588.6 H176" stroke="#4a4a4a" stroke-width="2.7" stroke-linecap="round"/><path d="M176,587.1 H193 Q195.4,588.6 193,590.1 H176" stroke="#3c3c3c" stroke-width="1.1"/><path d="M172,588.6 H190" stroke="#999" stroke-width="0.9"/><path d="M145.4,598.8000000000001 H176" stroke="#4a4a4a" stroke-width="2.7" stroke-linecap="round"/><path d="M176,597.3000000000001 H193 Q195.4,598.8000000000001 193,600.3000000000001 H176" stroke="#3c3c3c" stroke-width="1.1"/><path d="M172,598.8000000000001 H190" stroke="#999" stroke-width="0.9"/></g>
<path d="M238.6,586.4 A3.1,3.1 0 1 0 238.6,591.6" fill="none" stroke="#444" stroke-width="1"/>
<circle cx="331.2" cy="588.4" r="3.1" fill="none" stroke="#444" stroke-width="1"/>
<g transform="translate(952.8,0) scale(-1,1)" fill="none" stroke="#484848" stroke-width="1.2"><path d="M189.1,570.8 L199,568.2 L212.8,563.6 L248.4,566.6 Q252.8,576.0 253.3,589.0 Q252.8,602.0 248.4,611.4 L212.8,614.4 L199,609.8 L189.1,607.2 Z"/><path d="M199,568.2 V609.8"/><path d="M237.6,565.8 V556.2 H248.6 V566.6" /><path d="M235.6,561.6 h2 v-2.8 h-2z" stroke-width="0.9"/><path d="M237.6,612.2 V621.8 H248.6 V611.4" /><path d="M235.6,616.4 h2 v2.8 h-2z" stroke-width="0.9"/><path d="M145.4,578.2 H176" stroke="#4a4a4a" stroke-width="2.7" stroke-linecap="round"/><path d="M176,576.7 H193 Q195.4,578.2 193,579.7 H176" stroke="#3c3c3c" stroke-width="1.1"/><path d="M172,578.2 H190" stroke="#999" stroke-width="0.9"/><path d="M145.4,588.6 H176" stroke="#4a4a4a" stroke-width="2.7" stroke-linecap="round"/><path d="M176,587.1 H193 Q195.4,588.6 193,590.1 H176" stroke="#3c3c3c" stroke-width="1.1"/><path d="M172,588.6 H190" stroke="#999" stroke-width="0.9"/><path d="M145.4,598.8000000000001 H176" stroke="#4a4a4a" stroke-width="2.7" stroke-linecap="round"/><path d="M176,597.3000000000001 H193 Q195.4,598.8000000000001 193,600.3000000000001 H176" stroke="#3c3c3c" stroke-width="1.1"/><path d="M172,598.8000000000001 H190" stroke="#999" stroke-width="0.9"/></g>
<g transform="translate(869.5,0) scale(-1,1)" fill="none" stroke="#484848" stroke-width="1.2"><path d="M189.1,570.8 L199,568.2 L212.8,563.6 L248.4,566.6 Q252.8,576.0 253.3,589.0 Q252.8,602.0 248.4,611.4 L212.8,614.4 L199,609.8 L189.1,607.2 Z"/><path d="M199,568.2 V609.8"/><path d="M237.6,565.8 V556.2 H248.6 V566.6" /><path d="M235.6,561.6 h2 v-2.8 h-2z" stroke-width="0.9"/><path d="M237.6,612.2 V621.8 H248.6 V611.4" /><path d="M235.6,616.4 h2 v2.8 h-2z" stroke-width="0.9"/><path d="M145.4,578.2 H176" stroke="#4a4a4a" stroke-width="2.7" stroke-linecap="round"/><path d="M176,576.7 H193 Q195.4,578.2 193,579.7 H176" stroke="#3c3c3c" stroke-width="1.1"/><path d="M172,578.2 H190" stroke="#999" stroke-width="0.9"/><path d="M145.4,588.6 H176" stroke="#4a4a4a" stroke-width="2.7" stroke-linecap="round"/><path d="M176,587.1 H193 Q195.4,588.6 193,590.1 H176" stroke="#3c3c3c" stroke-width="1.1"/><path d="M172,588.6 H190" stroke="#999" stroke-width="0.9"/><path d="M145.4,598.8000000000001 H176" stroke="#4a4a4a" stroke-width="2.7" stroke-linecap="round"/><path d="M176,597.3000000000001 H193 Q195.4,598.8000000000001 193,600.3000000000001 H176" stroke="#3c3c3c" stroke-width="1.1"/><path d="M172,598.8000000000001 H190" stroke="#999" stroke-width="0.9"/></g>
<circle cx="632.7" cy="590.2" r="3.1" fill="none" stroke="#444" stroke-width="1"/>
<path d="M713.6,591.4 A3.1,3.1 0 0 0 719.6,591.4" fill="none" stroke="#444" stroke-width="1"/>
<g fill="none" stroke="#444" stroke-width="1.2">
<path d="M398.4,552.0 H492.4 M398.4,626.0 H492.4" stroke="#5c5c5c" stroke-width="1.7"/>
<path d="M367.4,569.7 V553.0 A15.5,15.5 0 0 1 398.4,553.0 V574.2 H407"/>
<path d="M352.2,555.6 H368 M352.2,572.8 L357.6,569.7 H368" stroke="#222" stroke-width="1.1"/>
<path d="M367.4,608.3 V625.0 A15.5,15.5 0 0 0 398.4,625.0 V603.8 H407"/>
<path d="M352.2,622.4 H368 M352.2,605.2 L357.6,608.3 H368" stroke="#222" stroke-width="1.1"/>
</g>
<g transform="translate(369.8,544.5)"><rect x="10.6" y="0" width="9.2" height="6.2" fill="#5e5e5e" stroke="#333" stroke-width="0.9"/><rect x="10.6" y="10.8" width="9.2" height="6.2" fill="#5e5e5e" stroke="#333" stroke-width="0.9"/><path d="M11,1.2 l8,4 M11,3.4 l5,2.6 M14,0.6 l5.6,2.8 M11,12 l8,4 M11,14.2 l5,2.6 M14,11.4 l5.6,2.8" stroke="#888" stroke-width="0.6" fill="none"/><rect x="12" y="6.8" width="7.6" height="3.4" fill="#fff" stroke="#444" stroke-width="0.9"/><path d="M5,2.2 H10.6 M4.6,4.6 H10.6 M4.6,12.4 H10.6 M5,14.8 H10.6 M5,4.6 V12.4" fill="none" stroke="#777" stroke-width="0.8"/><path d="M2,7.4 H12 M2,9.6 H12" stroke="#333" stroke-width="1.1" fill="none"/><rect x="4.8" y="6.4" width="4.6" height="4.2" fill="#777" stroke="#444" stroke-width="0.7"/><circle cx="0" cy="8.5" r="2.3" fill="#bbb" stroke="#333" stroke-width="1"/></g>
<g transform="translate(520.3,539.2) scale(-1,1)"><rect x="10.6" y="0" width="9.2" height="6.2" fill="#5e5e5e" stroke="#333" stroke-width="0.9"/><rect x="10.6" y="10.8" width="9.2" height="6.2" fill="#5e5e5e" stroke="#333" stroke-width="0.9"/><path d="M11,1.2 l8,4 M11,3.4 l5,2.6 M14,0.6 l5.6,2.8 M11,12 l8,4 M11,14.2 l5,2.6 M14,11.4 l5.6,2.8" stroke="#888" stroke-width="0.6" fill="none"/><rect x="12" y="6.8" width="7.6" height="3.4" fill="#fff" stroke="#444" stroke-width="0.9"/><path d="M5,2.2 H10.6 M4.6,4.6 H10.6 M4.6,12.4 H10.6 M5,14.8 H10.6 M5,4.6 V12.4" fill="none" stroke="#777" stroke-width="0.8"/><path d="M2,7.4 H12 M2,9.6 H12" stroke="#333" stroke-width="1.1" fill="none"/><rect x="4.8" y="6.4" width="4.6" height="4.2" fill="#777" stroke="#444" stroke-width="0.7"/><circle cx="0" cy="8.5" r="2.3" fill="#bbb" stroke="#333" stroke-width="1"/></g>
<g transform="translate(590.8,547.2) scale(-1,1)"><rect x="10.6" y="0" width="9.2" height="6.2" fill="#5e5e5e" stroke="#333" stroke-width="0.9"/><rect x="10.6" y="10.8" width="9.2" height="6.2" fill="#5e5e5e" stroke="#333" stroke-width="0.9"/><path d="M11,1.2 l8,4 M11,3.4 l5,2.6 M14,0.6 l5.6,2.8 M11,12 l8,4 M11,14.2 l5,2.6 M14,11.4 l5.6,2.8" stroke="#888" stroke-width="0.6" fill="none"/><rect x="12" y="6.8" width="7.6" height="3.4" fill="#fff" stroke="#444" stroke-width="0.9"/><path d="M5,2.2 H10.6 M4.6,4.6 H10.6 M4.6,12.4 H10.6 M5,14.8 H10.6 M5,4.6 V12.4" fill="none" stroke="#777" stroke-width="0.8"/><path d="M2,7.4 H12 M2,9.6 H12" stroke="#333" stroke-width="1.1" fill="none"/><rect x="4.8" y="6.4" width="4.6" height="4.2" fill="#777" stroke="#444" stroke-width="0.7"/><circle cx="0" cy="8.5" r="2.3" fill="#bbb" stroke="#333" stroke-width="1"/></g>
<g transform="translate(369.8,616.5)"><rect x="10.6" y="0" width="9.2" height="6.2" fill="#5e5e5e" stroke="#333" stroke-width="0.9"/><rect x="10.6" y="10.8" width="9.2" height="6.2" fill="#5e5e5e" stroke="#333" stroke-width="0.9"/><path d="M11,1.2 l8,4 M11,3.4 l5,2.6 M14,0.6 l5.6,2.8 M11,12 l8,4 M11,14.2 l5,2.6 M14,11.4 l5.6,2.8" stroke="#888" stroke-width="0.6" fill="none"/><rect x="12" y="6.8" width="7.6" height="3.4" fill="#fff" stroke="#444" stroke-width="0.9"/><path d="M5,2.2 H10.6 M4.6,4.6 H10.6 M4.6,12.4 H10.6 M5,14.8 H10.6 M5,4.6 V12.4" fill="none" stroke="#777" stroke-width="0.8"/><path d="M2,7.4 H12 M2,9.6 H12" stroke="#333" stroke-width="1.1" fill="none"/><rect x="4.8" y="6.4" width="4.6" height="4.2" fill="#777" stroke="#444" stroke-width="0.7"/><circle cx="0" cy="8.5" r="2.3" fill="#bbb" stroke="#333" stroke-width="1"/></g>
<g transform="translate(520.3,621.8) scale(-1,1)"><rect x="10.6" y="0" width="9.2" height="6.2" fill="#5e5e5e" stroke="#333" stroke-width="0.9"/><rect x="10.6" y="10.8" width="9.2" height="6.2" fill="#5e5e5e" stroke="#333" stroke-width="0.9"/><path d="M11,1.2 l8,4 M11,3.4 l5,2.6 M14,0.6 l5.6,2.8 M11,12 l8,4 M11,14.2 l5,2.6 M14,11.4 l5.6,2.8" stroke="#888" stroke-width="0.6" fill="none"/><rect x="12" y="6.8" width="7.6" height="3.4" fill="#fff" stroke="#444" stroke-width="0.9"/><path d="M5,2.2 H10.6 M4.6,4.6 H10.6 M4.6,12.4 H10.6 M5,14.8 H10.6 M5,4.6 V12.4" fill="none" stroke="#777" stroke-width="0.8"/><path d="M2,7.4 H12 M2,9.6 H12" stroke="#333" stroke-width="1.1" fill="none"/><rect x="4.8" y="6.4" width="4.6" height="4.2" fill="#777" stroke="#444" stroke-width="0.7"/><circle cx="0" cy="8.5" r="2.3" fill="#bbb" stroke="#333" stroke-width="1"/></g>
<g transform="translate(590.8,613.8) scale(-1,1)"><rect x="10.6" y="0" width="9.2" height="6.2" fill="#5e5e5e" stroke="#333" stroke-width="0.9"/><rect x="10.6" y="10.8" width="9.2" height="6.2" fill="#5e5e5e" stroke="#333" stroke-width="0.9"/><path d="M11,1.2 l8,4 M11,3.4 l5,2.6 M14,0.6 l5.6,2.8 M11,12 l8,4 M11,14.2 l5,2.6 M14,11.4 l5.6,2.8" stroke="#888" stroke-width="0.6" fill="none"/><rect x="12" y="6.8" width="7.6" height="3.4" fill="#fff" stroke="#444" stroke-width="0.9"/><path d="M5,2.2 H10.6 M4.6,4.6 H10.6 M4.6,12.4 H10.6 M5,14.8 H10.6 M5,4.6 V12.4" fill="none" stroke="#777" stroke-width="0.8"/><path d="M2,7.4 H12 M2,9.6 H12" stroke="#333" stroke-width="1.1" fill="none"/><rect x="4.8" y="6.4" width="4.6" height="4.2" fill="#777" stroke="#444" stroke-width="0.7"/><circle cx="0" cy="8.5" r="2.3" fill="#bbb" stroke="#333" stroke-width="1"/></g>
<g fill="none" stroke="#444" stroke-width="1.2">
<path d="M492.4,547.9 A15.8,15.8 0 0 1 524,547.9 V554.0"/>
<path d="M525.8,554.0 V552.0 A9,9 0 0 1 543.8,552.0 V556.5" stroke="#666" stroke-width="1"/>
<rect x="530.2" y="548.6" width="8.6" height="4.8" stroke="#777" stroke-width="1"/>
<rect x="531.6" y="549.8" width="5.8" height="3.6" stroke="#999" stroke-width="0.7"/>
<path d="M563.5,566.0 V556.2 A15.7,15.7 0 0 1 594.9,556.2 V568.3"/>
<path d="M543.8,551.4 L553.4,556.9 M532.3,557.0 H556 Q562.5,558.5 565,563.0 Q566.5,567.5 569.5,568.3 H594.9" stroke="#222" stroke-width="1.1"/>
<path d="M492.4,630.1 A15.8,15.8 0 0 0 524,630.1 V624.0"/>
<path d="M525.8,624.0 V626.0 A9,9 0 0 0 543.8,626.0 V621.5" stroke="#666" stroke-width="1"/>
<rect x="530.2" y="624.6" width="8.6" height="4.8" stroke="#777" stroke-width="1"/>
<rect x="531.6" y="624.6" width="5.8" height="3.6" stroke="#999" stroke-width="0.7"/>
<path d="M563.5,612.0 V621.8 A15.7,15.7 0 0 0 594.9,621.8 V609.7"/>
<path d="M543.8,626.6 L553.4,621.1 M532.3,621.0 H556 Q562.5,619.5 565,615.0 Q566.5,610.5 569.5,609.7 H594.9" stroke="#222" stroke-width="1.1"/>
<path d="M492.4,547.9 V630.1"/>
</g>
<path d="M466.4,577.1 H481.8 A11.9,11.9 0 0 1 481.8,600.9 H466.4 A11.9,11.9 0 0 1 466.4,577.1Z" fill="#fff" stroke="#111" stroke-width="1.1"/>
<path d="M467.1,578.4 H478.2 A10.6,10.6 0 0 1 478.2,599.6 H467.1 A10.6,10.6 0 0 1 467.1,578.4Z" fill="#000"/>
<g fill="none" stroke="#222" stroke-width="1.1">
<path d="M381.3,578.6 A10.4,10.4 0 0 0 381.3,599.4"/>
<path d="M381.3,578.6 V574.0 H392.6 V603.4 H381.3 V599.4"/>
<circle cx="376.8" cy="589.2" r="3" fill="#fff" stroke-width="1"/><path d="M375.9,587.4 v3.6 M377.7,587.4 v3.6" stroke-width="0.8"/>
<path d="M386,589.0 L408.4,571.8 M386,589.0 L408.4,606.2" stroke="#111" stroke-width="1.8"/>
<circle cx="386" cy="589.0" r="1" fill="#111"/>
<path d="M398.2,574.8 H406.8 M398.2,603.2 H406.8 M406.8,575.4 H418.2 V602.6 H406.8 M406.8,574.8 V603.2"/>
<path d="M396,589.0 h7" stroke="#888" stroke-width="0.8"/>
</g>
<g fill="none" stroke="#222" stroke-width="1"><path d="M408.8,556.3 C428.8,554.1 445.8,555.8 458.8,561.8 C445.8,567.8 428.8,569.5 408.8,567.3000000000001 Z" fill="#fff"/><path d="M413.8,557.2 Q423.8,555.9 439.8,556.9 Q448.8,557.6 449.6,561.8 Q448.8,566.0 439.8,566.7 Q423.8,567.7 413.8,566.4 Z" stroke-width="1"/><path d="M431.6,556.2 L431.8,567.4" stroke-width="1"/><path d="M432.3,557.6 Q445.8,557.4 447.3,561.8 Q445.8,566.2 432.3,566.0" stroke="#666" stroke-width="0.8"/><path d="M410.40000000000003,560.0 v3.6 M407.6,561.8 h2.8" stroke-width="0.9"/></g>
<g fill="none" stroke="#222" stroke-width="1"><path d="M408.8,610.6999999999999 C428.8,608.5 445.8,610.2 458.8,616.1999999999999 C445.8,622.2 428.8,623.9 408.8,621.7 Z" fill="#fff"/><path d="M413.8,611.6 Q423.8,610.3 439.8,611.3 Q448.8,612.0 449.6,616.1999999999999 Q448.8,620.4 439.8,621.1 Q423.8,622.1 413.8,620.8 Z" stroke-width="1"/><path d="M431.6,610.6 L431.8,621.8" stroke-width="1"/><path d="M432.3,612.0 Q445.8,611.8 447.3,616.1999999999999 Q445.8,620.6 432.3,620.4" stroke="#666" stroke-width="0.8"/><path d="M410.40000000000003,614.4 v3.6 M407.6,616.1999999999999 h2.8" stroke-width="0.9"/></g>
<g transform="translate(424,603.4) rotate(-45.2) translate(0,-6.8)"><g fill="none" stroke="#222" stroke-width="1"><path d="M0,1.3 C19.7,-0.9 36.5,0.8 49.3,6.8 C36.5,12.8 19.7,14.5 0,12.299999999999999 Z" fill="#fff"/><path d="M5,2.2 Q14.8,0.9 30.6,1.9 Q39.4,2.6 40.2,6.8 Q39.4,11.0 30.6,11.7 Q14.8,12.7 5,11.4 Z" stroke-width="1"/><path d="M22.4,1.2 L22.7,12.4" stroke-width="1"/><path d="M23.2,2.6 Q36.5,2.4 38.0,6.8 Q36.5,11.2 23.2,11.0" stroke="#666" stroke-width="0.8"/><path d="M1.6,5.0 v3.6 M-1.2,6.8 h2.8" stroke-width="0.9"/></g></g>
<g fill="none" stroke="#222" stroke-width="1"><path d="M395.1,521.0 C400.3,516.8 406.5,514.6 415.7,514.6 H429.2 C437.4,514.6 442.6,517.2 446.7,521.0 C442.6,524.8 437.4,527.4 429.2,527.4 H415.7 C406.5,527.4 400.3,525.2 395.1,521.0 Z" fill="#fff" stroke-width="1.25"/><path d="M399.3,521.0 C402.2,517.9 406.5,516.5 415.7,516.5 H429.2 C437.4,516.5 440.7,518.3 442.5,521.0 C440.7,523.7 437.4,525.5 429.2,525.5 H415.7 C406.5,525.5 402.2,524.1 399.3,521.0 Z" stroke-width="0.8"/><path d="M410.3,517.4 H404.6 Q402.1,521.0 404.6,524.6 H410.3 M410.3,519.2 H406.5 V522.8 H410.3" stroke-width="0.8"/><path d="M439.5,518.6 L443.1,521.0 L439.5,523.4" stroke-width="0.8"/><path d="M410.9,515.4 V526.6" stroke="#333" stroke-width="0.8"/><path d="M417.0,515.4 V526.6" stroke="#333" stroke-width="0.8"/><path d="M419.0,515.4 V526.6" stroke="#333" stroke-width="0.8"/><path d="M424.8,515.4 V526.6" stroke="#333" stroke-width="0.8"/><path d="M426.8,515.4 V526.6" stroke="#333" stroke-width="0.8"/><path d="M430.9,515.4 V526.6" stroke="#333" stroke-width="0.8"/><path d="M432.9,515.4 V526.6" stroke="#333" stroke-width="0.8"/><path d="M435.5,515.4 V526.6" stroke="#333" stroke-width="0.8"/><path d="M437.4,515.4 V526.6" stroke="#333" stroke-width="0.8"/></g>
<g fill="none" stroke="#222" stroke-width="1"><path d="M395.1,657.0 C400.3,652.8 406.5,650.6 415.7,650.6 H429.2 C437.4,650.6 442.6,653.2 446.7,657.0 C442.6,660.8 437.4,663.4 429.2,663.4 H415.7 C406.5,663.4 400.3,661.2 395.1,657.0 Z" fill="#fff" stroke-width="1.25"/><path d="M399.3,657.0 C402.2,653.9 406.5,652.5 415.7,652.5 H429.2 C437.4,652.5 440.7,654.3 442.5,657.0 C440.7,659.7 437.4,661.5 429.2,661.5 H415.7 C406.5,661.5 402.2,660.1 399.3,657.0 Z" stroke-width="0.8"/><path d="M410.3,653.4 H404.6 Q402.1,657.0 404.6,660.6 H410.3 M410.3,655.2 H406.5 V658.8 H410.3" stroke-width="0.8"/><path d="M439.5,654.6 L443.1,657.0 L439.5,659.4" stroke-width="0.8"/><path d="M410.9,651.4 V662.6" stroke="#333" stroke-width="0.8"/><path d="M417.0,651.4 V662.6" stroke="#333" stroke-width="0.8"/><path d="M419.0,651.4 V662.6" stroke="#333" stroke-width="0.8"/><path d="M424.8,651.4 V662.6" stroke="#333" stroke-width="0.8"/><path d="M426.8,651.4 V662.6" stroke="#333" stroke-width="0.8"/><path d="M430.9,651.4 V662.6" stroke="#333" stroke-width="0.8"/><path d="M432.9,651.4 V662.6" stroke="#333" stroke-width="0.8"/><path d="M435.5,651.4 V662.6" stroke="#333" stroke-width="0.8"/><path d="M437.4,651.4 V662.6" stroke="#333" stroke-width="0.8"/></g>
<g fill="none" stroke="#222" stroke-width="1"><path d="M606.2,529.6 C611.3,525.4 617.5,523.2 626.8,523.2 H640.1 C648.3,523.2 653.5,525.8 657.6,529.6 C653.5,533.4 648.3,536.0 640.1,536.0 H626.8 C617.5,536.0 611.3,533.8 606.2,529.6 Z" fill="#fff" stroke-width="1.25"/><path d="M610.4,529.6 C613.2,526.5 617.5,525.1 626.8,525.1 H640.1 C648.3,525.1 651.6,526.9 653.4,529.6 C651.6,532.3 648.3,534.1 640.1,534.1 H626.8 C617.5,534.1 613.2,532.7 610.4,529.6 Z" stroke-width="0.8"/><path d="M621.4000000000001,526.0 H615.7 Q613.2,529.6 615.7,533.2 H621.4000000000001 M621.4000000000001,527.8000000000001 H617.6 V531.4 H621.4000000000001" stroke-width="0.8"/><path d="M650.4,527.2 L654.0,529.6 L650.4,532.0" stroke-width="0.8"/><path d="M622.0,524.0 V535.2" stroke="#333" stroke-width="0.8"/><path d="M628.0,524.0 V535.2" stroke="#333" stroke-width="0.8"/><path d="M630.0,524.0 V535.2" stroke="#333" stroke-width="0.8"/><path d="M635.8,524.0 V535.2" stroke="#333" stroke-width="0.8"/><path d="M637.8,524.0 V535.2" stroke="#333" stroke-width="0.8"/><path d="M641.8,524.0 V535.2" stroke="#333" stroke-width="0.8"/><path d="M643.8,524.0 V535.2" stroke="#333" stroke-width="0.8"/><path d="M646.4,524.0 V535.2" stroke="#333" stroke-width="0.8"/><path d="M648.3,524.0 V535.2" stroke="#333" stroke-width="0.8"/></g>
<g fill="none" stroke="#222" stroke-width="1"><path d="M606.2,648.4 C611.3,644.2 617.5,642.0 626.8,642.0 H640.1 C648.3,642.0 653.5,644.6 657.6,648.4 C653.5,652.2 648.3,654.8 640.1,654.8 H626.8 C617.5,654.8 611.3,652.6 606.2,648.4 Z" fill="#fff" stroke-width="1.25"/><path d="M610.4,648.4 C613.2,645.3 617.5,643.9 626.8,643.9 H640.1 C648.3,643.9 651.6,645.7 653.4,648.4 C651.6,651.1 648.3,652.9 640.1,652.9 H626.8 C617.5,652.9 613.2,651.5 610.4,648.4 Z" stroke-width="0.8"/><path d="M621.4000000000001,644.8 H615.7 Q613.2,648.4 615.7,652.0 H621.4000000000001 M621.4000000000001,646.6 H617.6 V650.1999999999999 H621.4000000000001" stroke-width="0.8"/><path d="M650.4,646.0 L654.0,648.4 L650.4,650.8" stroke-width="0.8"/><path d="M622.0,642.8 V654.0" stroke="#333" stroke-width="0.8"/><path d="M628.0,642.8 V654.0" stroke="#333" stroke-width="0.8"/><path d="M630.0,642.8 V654.0" stroke="#333" stroke-width="0.8"/><path d="M635.8,642.8 V654.0" stroke="#333" stroke-width="0.8"/><path d="M637.8,642.8 V654.0" stroke="#333" stroke-width="0.8"/><path d="M641.8,642.8 V654.0" stroke="#333" stroke-width="0.8"/><path d="M643.8,642.8 V654.0" stroke="#333" stroke-width="0.8"/><path d="M646.4,642.8 V654.0" stroke="#333" stroke-width="0.8"/><path d="M648.3,642.8 V654.0" stroke="#333" stroke-width="0.8"/></g>
<g transform="translate(351.1,517.6)" fill="none" stroke="#999" stroke-width="0.8"><path d="M0,0 H21.4 M0,18 H21.4" stroke="#aaa" stroke-dasharray="2.6 0.7"/><path d="M0.2,0 V18 M0.2,17.8 H6" stroke="#666" stroke-width="0.9"/><path d="M21.4,0 V18" stroke="#bbb" stroke-width="0.7"/><path d="M5.2,5.4 H10.8 V12.9 H5.2" stroke="#888" stroke-width="0.9"/><path d="M5.2,0.6 V18 M2,2 h2 M2.6,14.8 l1.6,-1.6" stroke="#aaa" stroke-width="0.7"/><path d="M-17.8,7.5 H1.8 M-17.8,10.8 H1.8" stroke="#aaa" stroke-width="0.9"/><path d="M-18,7.5 h1.6 M-18,10.8 h1.6 M-6.6,7.5 h1.2 M-6.6,10.8 h1.2" stroke="#555" stroke-width="0.9"/><path d="M1.8,5.3 h3.4 v1.7 h-3.4z M1.8,8.3 h3.4 v1.7 h-3.4z M1.8,11.5 h3.4 v1.9 h-3.4z" fill="#111" stroke="none"/><path d="M21.6,0.2 h3.7 v4.7 h-2.6 L21.6,3.6Z M21.6,12 L25.3,14.4 V18 h-3.7Z" fill="#000" stroke="none"/></g>
<g transform="translate(486.4,515.2) scale(-1,1)" fill="none" stroke="#999" stroke-width="0.8"><path d="M0,0 H21.4 M0,18 H21.4" stroke="#aaa" stroke-dasharray="2.6 0.7"/><path d="M0.2,0 V18 M0.2,17.8 H6" stroke="#666" stroke-width="0.9"/><path d="M21.4,0 V18" stroke="#bbb" stroke-width="0.7"/><path d="M5.2,5.4 H10.8 V12.9 H5.2" stroke="#888" stroke-width="0.9"/><path d="M5.2,0.6 V18 M2,2 h2 M2.6,14.8 l1.6,-1.6" stroke="#aaa" stroke-width="0.7"/><path d="M-17.8,7.5 H1.8 M-17.8,10.8 H1.8" stroke="#aaa" stroke-width="0.9"/><path d="M-18,7.5 h1.6 M-18,10.8 h1.6 M-6.6,7.5 h1.2 M-6.6,10.8 h1.2" stroke="#555" stroke-width="0.9"/><path d="M1.8,5.3 h3.4 v1.7 h-3.4z M1.8,8.3 h3.4 v1.7 h-3.4z M1.8,11.5 h3.4 v1.9 h-3.4z" fill="#111" stroke="none"/><path d="M21.6,0.2 h3.7 v4.7 h-2.6 L21.6,3.6Z M21.6,12 L25.3,14.4 V18 h-3.7Z" fill="#000" stroke="none"/></g>
<g transform="translate(578.4,518.8) scale(-1,1)" fill="none" stroke="#999" stroke-width="0.8"><path d="M0,0 H21.4 M0,18 H21.4" stroke="#aaa" stroke-dasharray="2.6 0.7"/><path d="M0.2,0 V18 M0.2,17.8 H6" stroke="#666" stroke-width="0.9"/><path d="M21.4,0 V18" stroke="#bbb" stroke-width="0.7"/><path d="M5.2,5.4 H10.8 V12.9 H5.2" stroke="#888" stroke-width="0.9"/><path d="M5.2,0.6 V18 M2,2 h2 M2.6,14.8 l1.6,-1.6" stroke="#aaa" stroke-width="0.7"/><path d="M-17.8,7.5 H1.8 M-17.8,10.8 H1.8" stroke="#aaa" stroke-width="0.9"/><path d="M-18,7.5 h1.6 M-18,10.8 h1.6 M-6.6,7.5 h1.2 M-6.6,10.8 h1.2" stroke="#555" stroke-width="0.9"/><path d="M1.8,5.3 h3.4 v1.7 h-3.4z M1.8,8.3 h3.4 v1.7 h-3.4z M1.8,11.5 h3.4 v1.9 h-3.4z" fill="#111" stroke="none"/><path d="M21.6,0.2 h3.7 v4.7 h-2.6 L21.6,3.6Z M21.6,12 L25.3,14.4 V18 h-3.7Z" fill="#000" stroke="none"/></g>
<g transform="translate(351.1,642.4)" fill="none" stroke="#999" stroke-width="0.8"><path d="M0,0 H21.4 M0,18 H21.4" stroke="#aaa" stroke-dasharray="2.6 0.7"/><path d="M0.2,0 V18 M0.2,17.8 H6" stroke="#666" stroke-width="0.9"/><path d="M21.4,0 V18" stroke="#bbb" stroke-width="0.7"/><path d="M5.2,5.4 H10.8 V12.9 H5.2" stroke="#888" stroke-width="0.9"/><path d="M5.2,0.6 V18 M2,2 h2 M2.6,14.8 l1.6,-1.6" stroke="#aaa" stroke-width="0.7"/><path d="M-17.8,7.5 H1.8 M-17.8,10.8 H1.8" stroke="#aaa" stroke-width="0.9"/><path d="M-18,7.5 h1.6 M-18,10.8 h1.6 M-6.6,7.5 h1.2 M-6.6,10.8 h1.2" stroke="#555" stroke-width="0.9"/><path d="M1.8,5.3 h3.4 v1.7 h-3.4z M1.8,8.3 h3.4 v1.7 h-3.4z M1.8,11.5 h3.4 v1.9 h-3.4z" fill="#111" stroke="none"/><path d="M21.6,0.2 h3.7 v4.7 h-2.6 L21.6,3.6Z M21.6,12 L25.3,14.4 V18 h-3.7Z" fill="#000" stroke="none"/></g>
<g transform="translate(486.4,644.8) scale(-1,1)" fill="none" stroke="#999" stroke-width="0.8"><path d="M0,0 H21.4 M0,18 H21.4" stroke="#aaa" stroke-dasharray="2.6 0.7"/><path d="M0.2,0 V18 M0.2,17.8 H6" stroke="#666" stroke-width="0.9"/><path d="M21.4,0 V18" stroke="#bbb" stroke-width="0.7"/><path d="M5.2,5.4 H10.8 V12.9 H5.2" stroke="#888" stroke-width="0.9"/><path d="M5.2,0.6 V18 M2,2 h2 M2.6,14.8 l1.6,-1.6" stroke="#aaa" stroke-width="0.7"/><path d="M-17.8,7.5 H1.8 M-17.8,10.8 H1.8" stroke="#aaa" stroke-width="0.9"/><path d="M-18,7.5 h1.6 M-18,10.8 h1.6 M-6.6,7.5 h1.2 M-6.6,10.8 h1.2" stroke="#555" stroke-width="0.9"/><path d="M1.8,5.3 h3.4 v1.7 h-3.4z M1.8,8.3 h3.4 v1.7 h-3.4z M1.8,11.5 h3.4 v1.9 h-3.4z" fill="#111" stroke="none"/><path d="M21.6,0.2 h3.7 v4.7 h-2.6 L21.6,3.6Z M21.6,12 L25.3,14.4 V18 h-3.7Z" fill="#000" stroke="none"/></g>
<g transform="translate(578.4,641.2) scale(-1,1)" fill="none" stroke="#999" stroke-width="0.8"><path d="M0,0 H21.4 M0,18 H21.4" stroke="#aaa" stroke-dasharray="2.6 0.7"/><path d="M0.2,0 V18 M0.2,17.8 H6" stroke="#666" stroke-width="0.9"/><path d="M21.4,0 V18" stroke="#bbb" stroke-width="0.7"/><path d="M5.2,5.4 H10.8 V12.9 H5.2" stroke="#888" stroke-width="0.9"/><path d="M5.2,0.6 V18 M2,2 h2 M2.6,14.8 l1.6,-1.6" stroke="#aaa" stroke-width="0.7"/><path d="M-17.8,7.5 H1.8 M-17.8,10.8 H1.8" stroke="#aaa" stroke-width="0.9"/><path d="M-18,7.5 h1.6 M-18,10.8 h1.6 M-6.6,7.5 h1.2 M-6.6,10.8 h1.2" stroke="#555" stroke-width="0.9"/><path d="M1.8,5.3 h3.4 v1.7 h-3.4z M1.8,8.3 h3.4 v1.7 h-3.4z M1.8,11.5 h3.4 v1.9 h-3.4z" fill="#111" stroke="none"/><path d="M21.6,0.2 h3.7 v4.7 h-2.6 L21.6,3.6Z M21.6,12 L25.3,14.4 V18 h-3.7Z" fill="#000" stroke="none"/></g>
<g fill="none" stroke="#222" stroke-width="1">
<path d="M499,575.4 V602.6 M503.5,575.4 V602.6" stroke-width="1.3"/>
<path d="M507.6,566.5 V611.5 M543.2,566.5 V611.5" stroke-width="1.5"/>
<path d="M499,589.0 H511" stroke-width="1.6"/>
<rect x="511.2" y="555.4" width="21.1" height="67.20000000000005"/>
<circle cx="527.2" cy="589.0" r="15.3" fill="#fff" stroke-width="1.2"/>
<path d="M507.6,575.4 L511.2,572.5 L516.5,571.0 V563.5 H524 M507.6,602.6 L511.2,605.5 L516.5,607.0 V614.5 H524"/>
<path d="M511,589.0 L514,583.5 M511,589.0 L514,594.5" />
<path d="M532.3,571.7 L546.9,579.0 V599.0 L532.3,606.3"/>
<path d="M528,569.4 L543.2,576.4 M528,608.6 L543.2,601.6" stroke-width="0.9"/>
<path d="M519.2,562.5 H536 M519.2,563.8 H536" stroke-width="0.9"/>
<path d="M520.5,561.8 l2.4,-2.6 l4,1.6 l-1.6,1.6z" stroke-width="1"/>
<path d="M525.4,564.0 V577.5 M527.2,564.0 V577.5" stroke="#777" stroke-width="0.8"/>
<path d="M519.2,615.5 H536 M519.2,614.2 H536" stroke-width="0.9"/>
<path d="M520.5,616.2 l2.4,2.6 l4,-1.6 l-1.6,-1.6z" stroke-width="1"/>
<path d="M525.4,614.0 V600.5 M527.2,614.0 V600.5" stroke="#777" stroke-width="0.8"/>
</g>
<g fill="none" stroke="#777" stroke-width="0.9"><path d="M521.4,580.0 Q521.8,577.4 525.4,577.2 H531.4 L538.1,581.4 V596.6 L531.4,600.8 H525.4 Q521.8,600.6 521.4,598.0 Z" fill="#fff"/><path d="M533.0,579.6 V598.4 M535.4,581.0 V597.0 M533.0,583.6 H538.1 M533.0,587.2 H538.1 M533.0,590.8 H538.1 M533.0,594.4 H538.1" stroke="#999" stroke-width="0.7"/><rect x="524.0" y="586.4" width="8" height="5.2" stroke="#555" stroke-width="1"/><path d="M526.6,586.4 v5.2 M529.1999999999999,586.4 v5.2 M524.0,589.0 h8" stroke="#777" stroke-width="0.8"/></g>
<path d="M566.6,576.4 L554.6,579.3 V598.7 L566.6,601.6" fill="none" stroke="#222" stroke-width="1"/>
<path d="M569.4,576.6 V568.7 M571.2,576.6 V568.7 M569.4,601.4 V609.3 M571.2,601.4 V609.3" stroke="#555" stroke-width="0.8" fill="none"/>
<g fill="none" stroke="#777" stroke-width="0.9"><path d="M565.6,580.0 Q566.0,577.4 569.6,577.2 H575.6 L582.3000000000001,581.4 V596.6 L575.6,600.8 H569.6 Q566.0,600.6 565.6,598.0 Z" fill="#fff"/><path d="M577.2,579.6 V598.4 M579.6,581.0 V597.0 M577.2,583.6 H582.3000000000001 M577.2,587.2 H582.3000000000001 M577.2,590.8 H582.3000000000001 M577.2,594.4 H582.3000000000001" stroke="#999" stroke-width="0.7"/><rect x="568.2" y="586.4" width="8" height="5.2" stroke="#555" stroke-width="1"/><path d="M570.8000000000001,586.4 v5.2 M573.4,586.4 v5.2 M568.2,589.0 h8" stroke="#777" stroke-width="0.8"/></g>
<path d="M585,569.4 Q590,567.4 596,568.4 Q609.6,572.0 610.4,589.0 Q609.6,606.0 596,609.6 Q590,610.6 585,608.6" fill="none" stroke="#444" stroke-width="1"/>
<path d="M585,569.68 Q590,568.8 596,569.8 Q609.6,573.4 609.0,589.0 Q609.6,604.6 596,608.2 Q590,609.2 585,608.32" fill="none" stroke="#888" stroke-width="1"/>
<path d="M585,569.9599999999999 Q590,570.1999999999999 596,571.1999999999999 Q609.6,574.8 607.6,589.0 Q609.6,603.2 596,606.8000000000001 Q590,607.8000000000001 585,608.0400000000001" fill="none" stroke="#555" stroke-width="1"/>
<path d="M586.5,568.6 h5 v1.6 h-5z M586.5,609.4 h5 v-1.6 h-5z" fill="none" stroke="#444" stroke-width="0.8"/>
</g>
</svg>
</body></html>
